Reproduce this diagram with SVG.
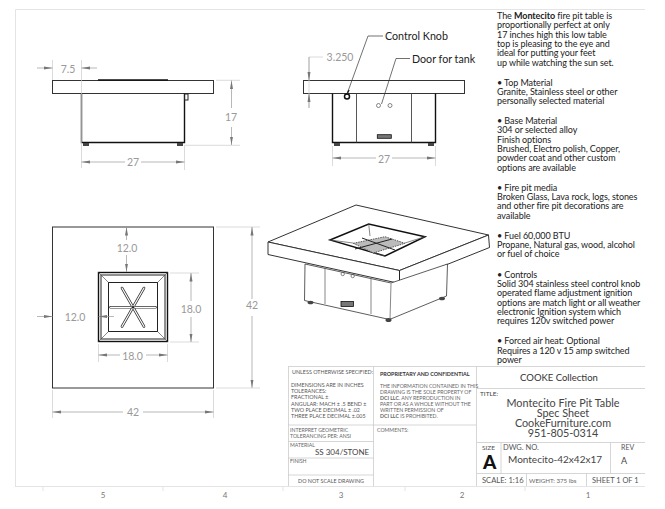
<svg xmlns="http://www.w3.org/2000/svg" width="665" height="509" viewBox="0 0 665 509">
<defs>
<marker id="a" markerWidth="9" markerHeight="5" refX="8.5" refY="2.5" orient="auto-start-reverse" markerUnits="userSpaceOnUse"><path d="M0 1 L8.5 2.5 L0 4Z" fill="#777"/></marker>
</defs>
<style>
text{font-family:"Lato","Open Sans","Liberation Sans",sans-serif}
.o{fill:#fff;stroke:#333;stroke-width:1}
.k{fill:none;stroke:#222;stroke-width:1}
.h{fill:none;stroke:#111;stroke-width:1.4}
.t{fill:none;stroke:#555;stroke-width:.7}
.p{fill:none;stroke:#444;stroke-width:.9}
.f{fill:#444;stroke:none}
.e{fill:none;stroke:#ccc;stroke-width:.7}
.d{fill:none;stroke:#999;stroke-width:.7;marker-end:url(#a)}
.dim{fill:#999;font-size:10.5px;text-anchor:middle}
.call{fill:#222;font-size:10.7px}
.g{fill:none;stroke:#ccc;stroke-width:.8}
.fr{fill:none;stroke:#ddd;stroke-width:.8}
.sm{fill:#666;font-size:5.2px}
.tb{fill:#555;font-size:5.4px}
.ti{fill:#444;font-size:10.800px;text-anchor:middle}
.desc{fill:#222;font-size:9px;letter-spacing:-.08px}
.z{fill:#777;font-size:8px;text-anchor:middle}
.bo{fill:none;stroke:#333;stroke-width:2.600;stroke-linecap:round}
.bi{fill:none;stroke:#fff;stroke-width:1.200;stroke-linecap:round}
</style>
<rect width="665" height="509" fill="#fff"/>
<g id="frame">
<path class="fr" d="M15.500 487V9.500H645"/>
<path class="fr" d="M15 486.500H645M43 487v4M163 487v4M283 487v4M405 487v4M525 487v4"/>
</g>
<g id="side-view">
<rect class="o" x="52.500" y="80.500" width="161" height="13"/>
<path class="h" d="M98 80H168"/>
<path class="h" d="M81.500 93.500V142.500H184.500V93.500"/>
<rect class="k" x="184.500" y="94" width="3.500" height="6"/>
<rect class="f" x="83" y="143" width="6" height="3"/><rect class="f" x="177" y="143" width="6" height="3"/>
</g>
<g id="front-view">
<rect class="o" x="303.500" y="80.500" width="161" height="13"/>
<path class="h" d="M332.500 93.500V142.500H435.500V93.500"/>
<path class="p" d="M356.500 93.500V142.500M411.500 93.500V142.500"/>
<circle cx="347" cy="96.500" r="2.500" fill="none" stroke="#111" stroke-width="1.500"/>
<path class="h" d="M347 94L349 90"/>
<circle class="t" cx="378.500" cy="105.500" r="2"/><circle class="t" cx="390" cy="105.500" r="2"/>
<rect x="377.300" y="134.700" width="14" height="3.600" fill="#777" stroke="#111" stroke-width=".8"/>
<rect class="f" x="334" y="143" width="6" height="3"/><rect class="f" x="428" y="143" width="6" height="3"/>
</g>
<g id="top-view">
<rect class="o" x="52.500" y="227" width="161" height="161"/>
<rect x="98.500" y="272.500" width="69" height="69" fill="#fff" stroke="#111" stroke-width="1.400"/>
<rect class="k" x="101" y="275" width="64" height="64"/>
<rect class="k" x="108.500" y="282.500" width="49" height="49"/>
<path class="t" d="M98.500 272.500L108.500 282.500M167.500 272.500L157.500 282.500M98.500 341.500L108.500 331.500M167.500 341.500L157.500 331.500"/>
<path class="bo" d="M110.500 307.300H155.500M122 288L144 326.500M144 288L122 326.500"/>
<path class="bi" d="M110.500 307.300H155.500M122 288L144 326.500M144 288L122 326.500"/>
<circle cx="133" cy="307.300" r="1.300" fill="#222"/>
</g>
<g id="iso-view">
<path class="o" d="M268 242L356 205L488.500 235L399.500 270.500Z"/>
<path class="o" d="M268 242V254.500L399.500 283.500L489.500 247.500L488.500 235L399.500 270.500Z"/>
<path class="k" d="M399.500 270.500V283.500"/>
<path d="M305 264L304.500 300.500L389.500 319.500L446.500 296L447.500 264L391 283L305 264Z" fill="#fff" stroke="#333" stroke-width=".8"/>
<path class="t" d="M325 268V304M371 279V314M391 283.500L390 319.500"/>
<circle class="t" cx="342.700" cy="274" r="1.700"/><circle class="t" cx="352.700" cy="276" r="1.700"/>
<rect x="341" y="301.500" width="12.500" height="5" fill="#777" stroke="#111" stroke-width=".8"/>
<ellipse class="f" cx="310.500" cy="302.500" rx="3" ry="1.800"/><ellipse class="f" cx="388.500" cy="320" rx="3" ry="2"/><ellipse class="f" cx="442" cy="298.500" rx="3" ry="1.800"/>
<path d="M330 240L368.700 224L425 236.700L385 256Z" fill="#fff" stroke="#111" stroke-width="1.500"/>
<path class="t" d="M368.700 224L370 236M330 240L353 243M425 236.700L405 243M385 256L373 253"/>
<path d="M353.300 243.300L385 236.700L405 243.300L373.300 253Z" fill="#bbb" stroke="#333" stroke-width=".8" stroke-dasharray="1.500 1"/>
<path class="k" d="M362 238L395 250M355 249L392 239"/>
</g>
<g id="dimensions">
<path class="e" d="M52.500 60V80M81.500 60V168M184.500 146V170M216 80.300H240M184 145.300H240"/>
<path class="d" d="M37 68H52.500"/><path class="d" d="M97 68H81.500"/>
<path class="d" d="M231.500 108V80.500"/><path class="d" d="M231.500 127V145"/>
<path class="d" d="M125 162H81.500"/><path class="d" d="M141 162H184.500"/>
<text class="dim" x="68" y="73">7.5</text><text class="dim" x="231" y="121">17</text><text class="dim" x="133" y="166">27</text>
<path class="e" d="M309 57H323M332.500 146V166M435.500 146V166M309 57V108"/>
<path class="d" d="M309 57V80.500"/><path class="d" d="M309 108V93.500"/>
<path class="d" d="M376 158H332.500"/><path class="d" d="M392 158H435.500"/>
<text class="dim" x="340" y="61">3.250</text><text class="dim" x="384" y="163">27</text>
<path class="e" d="M216 227H260M170 273H199M170 342H199M98.500 344V362M167.500 344V362"/>
<path class="d" d="M126.500 240V227"/><path class="d" d="M126.500 255V272"/>
<path class="d" d="M37 316.500H52.500"/><path class="d" d="M114 316.500H98.500"/>
<path class="d" d="M191 301V273"/><path class="d" d="M191 317V342"/>
<path class="d" d="M120 355H98.500"/><path class="d" d="M146 355H167.500"/>
<path class="d" d="M252 299V227"/><path class="d" d="M252 316V388"/>
<text class="dim" x="127" y="252">12.0</text><text class="dim" x="75" y="321">12.0</text><text class="dim" x="191" y="313">18.0</text><text class="dim" x="132.500" y="360">18.0</text><text class="dim" x="252" y="309">42</text>
<path class="e" d="M52.500 390V418M213.500 390V418M216 388H260"/>
<path class="d" d="M123 412H52.500"/><path class="d" d="M143 412H213.500"/>
<text class="dim" x="133" y="416">42</text>
</g>
<g id="callouts">
<path d="M383 36H368L347 94" fill="none" stroke="#333" stroke-width=".7"/>
<path d="M410 58.500H396L381.500 104" fill="none" stroke="#333" stroke-width=".7"/>
<text class="call" x="385" y="40">Control Knob</text>
<text class="call" x="412" y="63">Door for tank</text>
</g>
<g id="description" class="desc">
<text x="497" y="19">The <tspan font-weight="700">Montecito</tspan> fire pit table is</text>
<text x="497" y="28.300">proportionally perfect at only</text>
<text x="497" y="37.700">17 inches high this low table</text>
<text x="497" y="47">top is pleasing to the eye and</text>
<text x="497" y="56.300">ideal for putting your feet</text>
<text x="497" y="65.700">up while watching the sun set.</text>
<text x="497" y="85.500">• Top Material</text>
<text x="497" y="95">Granite, Stainless steel or other</text>
<text x="497" y="104.300">personally selected material</text>
<text x="497" y="124">• Base Material</text>
<text x="497" y="133.300">304 or selected alloy</text>
<text x="497" y="142.700">Finish options</text>
<text x="497" y="152">Brushed, Electro polish, Copper,</text>
<text x="497" y="161.300">powder coat and other custom</text>
<text x="497" y="170.700">options are available</text>
<text x="497" y="191">• Fire pit media</text>
<text x="497" y="200">Broken Glass, Lava rock, logs, stones</text>
<text x="497" y="209.300">and other fire pit decorations are</text>
<text x="497" y="218.700">available</text>
<text x="497" y="238.500">• Fuel 60,000 BTU</text>
<text x="497" y="248">Propane, Natural gas, wood, alcohol</text>
<text x="497" y="257.300">or fuel of choice</text>
<text x="497" y="277.500">• Controls</text>
<text x="497" y="287">Solid 304 stainless steel control knob</text>
<text x="497" y="296.300">operated flame adjustment ignition</text>
<text x="497" y="305.700">options are match light or all weather</text>
<text x="497" y="315">electronic Ignition system which</text>
<text x="497" y="324.300">requires 120v switched power</text>
<text x="497" y="344">• Forced air heat: Optional</text>
<text x="497" y="353.500">Requires a 120 v 15 amp switched</text>
<text x="497" y="362.800">power</text>
</g>
<g id="title-block">
<path class="g" d="M288 366.500H645M288.500 366.500V486M373.500 366.500V486M476.500 366.500V486M288 425H476M288 441.500H373.500M288 458H373.500M288 475H373.500M477 388.500H645M477 442.500H645M477 473.500H645M501 442.500V473.500M610.500 442.500V473.500M526.500 473.500V486M586.500 473.500V486"/>
<text class="tb" x="292" y="374">UNLESS OTHERWISE SPECIFIED:</text>
<text class="tb" x="291" y="387">DIMENSIONS ARE IN INCHES</text>
<text class="tb" x="291" y="393">TOLERANCES:</text>
<text class="tb" x="291" y="399">FRACTIONAL ±</text>
<text class="tb" x="291" y="405.500">ANGULAR: MACH ± .5  BEND ±</text>
<text class="tb" x="291" y="412">TWO PLACE DECIMAL    ± .02</text>
<text class="tb" x="291" y="418">THREE PLACE DECIMAL  ±.005</text>
<text class="sm" x="290" y="432">INTERPRET GEOMETRIC</text>
<text class="sm" x="290" y="438">TOLERANCING PER: ANSI</text>
<text class="sm" x="290" y="446.500">MATERIAL</text>
<text x="315" y="455" fill="#444" font-size="8">SS 304/STONE</text>
<text class="sm" x="290" y="463">FINISH</text>
<text class="tb" x="331" y="483" text-anchor="middle">DO NOT SCALE DRAWING</text>
<text x="380" y="376" fill="#333" font-size="5.400" font-weight="700">PROPRIETARY AND CONFIDENTIAL</text>
<text class="sm" x="380" y="388">THE INFORMATION CONTAINED IN THIS</text>
<text class="sm" x="380" y="394">DRAWING IS THE SOLE PROPERTY OF</text>
<text class="sm" x="380" y="400"><tspan font-weight="700">DCI LLC</tspan>.  ANY REPRODUCTION IN</text>
<text class="sm" x="380" y="406">PART OR AS A WHOLE WITHOUT THE</text>
<text class="sm" x="380" y="412">WRITTEN PERMISSION OF</text>
<text class="sm" x="380" y="418"><tspan font-weight="700">DCI LLC</tspan> IS PROHIBITED.</text>
<text class="sm" x="377" y="432">COMMENTS:</text>
<text x="559" y="381" fill="#333" font-size="9.500" text-anchor="middle">COOKE Collection</text>
<text x="480" y="396" fill="#444" font-size="6.500">TITLE:</text>
<text class="ti" x="563" y="406.500">Montecito Fire Pit Table</text>
<text class="ti" x="563" y="416.500">Spec Sheet</text>
<text class="ti" x="563" y="426.500">CookeFurniture.com</text>
<text class="ti" x="563" y="436.500">951-805-0314</text>
<text x="482" y="450" fill="#555" font-size="6.500">SIZE</text>
<text x="483" y="468.500" fill="#111" font-size="19" font-weight="900">A</text>
<text x="503" y="450" fill="#555" font-size="7.500">DWG.  NO.</text>
<text x="508" y="463" fill="#444" font-size="10">Montecito-42x42x17</text>
<text x="621" y="450" fill="#555" font-size="7">REV</text>
<text x="621" y="464" fill="#444" font-size="9">A</text>
<text x="482" y="483" fill="#555" font-size="7.600">SCALE: 1:16</text>
<text x="529" y="483" fill="#666" font-size="6.200">WEIGHT: 375 lbs</text>
<text x="592" y="483" fill="#555" font-size="7.400">SHEET 1 OF 1</text>
</g>
<g id="zones">
<text class="z" x="103" y="498">5</text><text class="z" x="225" y="498">4</text><text class="z" x="341" y="498">3</text><text class="z" x="462" y="498">2</text><text class="z" x="588" y="498">1</text>
</g>
</svg>
